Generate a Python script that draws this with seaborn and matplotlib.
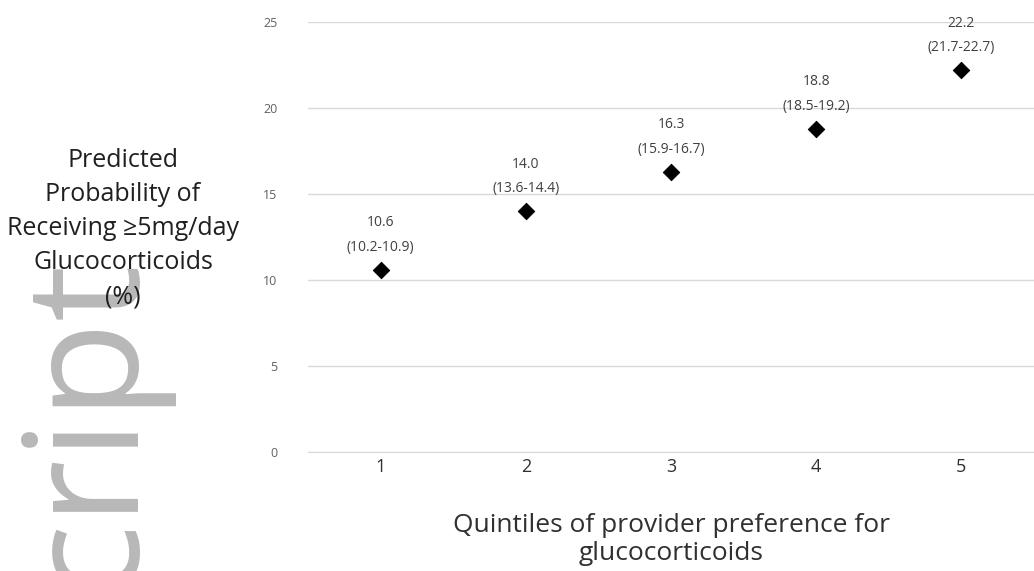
import pandas as pd
import matplotlib.pyplot as plt
import seaborn as sns

quintiles = [1, 2, 3, 4, 5]
probability = [10.6, 14.0, 16.3, 18.8, 22.2]
ci_low = [10.2, 13.6, 15.9, 18.5, 21.7]
ci_high = [10.9, 14.4, 16.7, 19.2, 22.7]
y_ticks = [0, 5, 10, 15, 20, 25]

data = pd.DataFrame({'Quintile': quintiles, 'Probability': probability,
                     'Low': ci_low, 'High': ci_high})

sns.set_style('white')
plt.rcParams['font.family'] = ['Open Sans', 'DejaVu Sans']

fig = plt.figure(figsize=(10.34, 5.71), dpi=100)
ax = fig.add_axes([0.298, 0.208, 0.702, 0.753])

# watermark from the source page
fig.text(0.163, 0.553, 'cript', rotation=90, fontsize=115, color='#b8b8b8',
         ha='right', va='top', zorder=0)

sns.scatterplot(data=data, x='Quintile', y='Probability', marker='D', s=70,
                color='black', edgecolor='black', ax=ax, zorder=3)

for _, row in data.iterrows():
    ax.annotate(f"{row['Probability']:.1f}\n({row['Low']:.1f}-{row['High']:.1f})",
                (row['Quintile'], row['Probability']), xytext=(0, 11),
                textcoords='offset points', ha='center', va='bottom',
                fontsize=10, color='#404040', linespacing=1.85)

ax.set_xlim(0.5, 5.5)
ax.set_ylim(0, 25)
ax.set_xticks(quintiles)
ax.set_xticklabels([str(q) for q in quintiles], fontsize=13, color='#303030')
ax.set_yticks(y_ticks)
ax.set_yticklabels([str(t) for t in y_ticks], fontsize=9, color='#606060')
ax.tick_params(axis='y', length=0, pad=22)
ax.tick_params(axis='x', length=0, pad=4)
ax.grid(True, axis='y', color='#d9d9d9', linewidth=1)
ax.set_axisbelow(True)
for side in ['left', 'right', 'top']:
    ax.spines[side].set_visible(False)
ax.spines['bottom'].set_color('#d9d9d9')

ax.set_xlabel('Quintiles of provider preference for\nglucocorticoids', fontsize=19,
              color='#303030', labelpad=27, linespacing=1.15)
ax.set_ylabel('')
fig.text(0.119, 0.60, 'Predicted\nProbability of\nReceiving \u22655mg/day\nGlucocorticoids\n(%)',
         ha='center', va='center', fontsize=18, color='#202020', linespacing=1.48, zorder=5)

fig.savefig('out.png', dpi=100)
